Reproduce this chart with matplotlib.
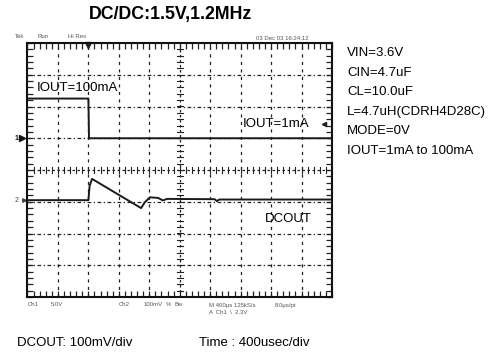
import numpy as np
import matplotlib
matplotlib.use('Agg')
import matplotlib.pyplot as plt
from matplotlib.ticker import MultipleLocator

plt.rcParams['font.family'] = ['Liberation Sans', 'DejaVu Sans']

# scope traces, in screen divisions (x: 0..10 div, y: -4..4 div)
iout_t = [0, 2.0, 2.02, 10]
iout_v = [2.25, 2.25, 1.0, 1.0]

dcout_t = [0, 2.0, 2.04, 2.12, 3.73, 3.85, 4.02, 4.29, 4.45, 4.58, 6.15, 6.22, 6.3, 10]
dcout_v = [-0.95, -0.95, -0.5, -0.28, -1.2, -1.02, -0.86, -0.88, -0.96, -0.91, -0.92, -0.98, -0.93, -0.93]

conditions = ['VIN=3.6V', 'CIN=4.7uF', 'CL=10.0uF', 'L=4.7uH(CDRH4D28C)',
              'MODE=0V', 'IOUT=1mA to 100mA']

W, H = 489, 354
fig = plt.figure(figsize=(W / 100, H / 100), dpi=100)

def px(x, y):
    return x / W, 1 - y / H

ax = fig.add_axes([27.5 / W, 1 - 297 / H, 304.5 / W, 254 / H])
ax.set_xlim(0, 10)
ax.set_ylim(-4, 4)

# graticule
for i in range(1, 10):
    if i != 5:
        ax.axvline(i, color='#222222', lw=0.9, ls=(0, (2.5, 3.5)))
for j in range(-3, 4):
    if j != 0:
        ax.axhline(j, color='#222222', lw=0.9, ls=(0, (3, 2, 1, 2)))
ax.axvline(5, color='#222222', lw=0.9, ls=(0, (2, 2)))
ax.axhline(0, color='#222222', lw=0.9, ls=(0, (2, 2)))
tk = np.arange(0.2, 10, 0.2)
ax.plot(np.repeat(tk, 3), np.tile([-0.09, 0.09, np.nan], len(tk)), color='#222222', lw=0.8)
tk = np.arange(-3.8, 4, 0.2)
ax.plot(np.tile([4.9, 5.1, np.nan], len(tk)), np.repeat(tk, 3), color='#222222', lw=0.8)

ax.xaxis.set_major_locator(MultipleLocator(1))
ax.xaxis.set_minor_locator(MultipleLocator(0.2))
ax.yaxis.set_major_locator(MultipleLocator(1))
ax.yaxis.set_minor_locator(MultipleLocator(0.2))
ax.tick_params(which='both', direction='in', top=True, right=True,
               labelbottom=False, labelleft=False, length=4, width=0.9, color='#222222')
for s in ax.spines.values():
    s.set_linewidth(1.5)
    s.set_color('#111111')

# traces
ax.plot(iout_t, iout_v, color='#1a1a1a', lw=1.4)
ax.plot(dcout_t, dcout_v, color='#1a1a1a', lw=1.4)

# markers
ax.plot([2.0], [3.93], marker='v', ms=4, color='#222222', clip_on=False)
ax.plot([9.75], [1.46], marker='<', ms=3, color='#222222')
ax.plot([-0.18], [1.0], marker='>', ms=4, color='#111111', clip_on=False)
ax.text(-0.3, 1.0, '1', fontsize=5, fontweight='bold', ha='right', va='center', color='#111111')
ax.plot([-0.12], [-0.95], marker='>', ms=2.5, color='#444444', clip_on=False)
ax.text(-0.3, -0.95, '2', fontsize=5, ha='right', va='center', color='#444444')

ax.text(0.3, 2.58, 'IOUT=100mA', fontsize=9.5, va='center')
ax.text(7.08, 1.45, 'IOUT=1mA', fontsize=9.5, va='center')
ax.text(7.8, -1.54, 'DCOUT', fontsize=9.5, va='center')

# scope header / footer
small = dict(fontsize=4.3, color='#555555', va='center')
fig.text(*px(15, 37), 'Tek', **small)
fig.text(*px(38, 37), 'Run', **small)
fig.text(*px(68, 37), 'Hi Res', **small)
fig.text(*px(256, 38), '03 Dec 03 16:24:12', **small)
fig.text(*px(28, 305), 'Ch1', **small)
fig.text(*px(51, 305), '5.0V', **small)
fig.text(*px(119, 305), 'Ch2', **small)
fig.text(*px(144, 305), '100mV', **small)
fig.text(*px(166, 305), '%', **small)
fig.text(*px(175, 305), 'Bw', **small)
fig.text(*px(209, 305), 'M 400\u00b5s 125kS/s', **small)
fig.text(*px(275, 305), '8.0\u00b5s/pt', **small)
fig.text(*px(209, 313), 'A  Ch1  \\  2.3V', **small)

fig.text(*px(170.5, 15), 'DC/DC:1.5V,1.2MHz', fontsize=12.8, fontweight='bold',
         ha='center', va='center')
for k, s in enumerate(conditions):
    fig.text(*px(347, 53 + k * 19.5), s, fontsize=9.5, va='center')

fig.text(*px(17, 343), 'DCOUT: 100mV/div', fontsize=9.5, va='center')
fig.text(*px(199, 343), 'Time : 400usec/div', fontsize=9.5, va='center')

fig.savefig('out.png', dpi=100)
